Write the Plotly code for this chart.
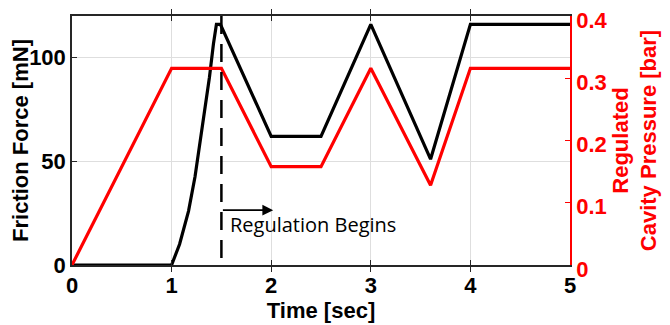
import plotly.graph_objects as go

# ---- data ----
t_force = [0, 1.0, 1.08, 1.17, 1.235, 1.285, 1.335, 1.38, 1.42, 1.45, 1.49, 2.0, 2.5, 3.0, 3.6, 4.0, 5.0]
force_mN = [0, 0, 10, 26, 42.5, 58.5, 74.5, 90.5, 106.5, 116, 116, 62, 62, 116, 51, 116, 116]

t_press = [0, 1.0, 1.5, 2.0, 2.5, 3.0, 3.6, 4.0, 5.0]
pressure_bar = [0, 0.316, 0.316, 0.158, 0.158, 0.316, 0.128, 0.316, 0.316]

regulation_start = 1.5
arrow_end = 2.02
arrow_level = 26.4
label_level = 19.5
annotation_text = "Regulation Begins"

x_ticks = [0, 1, 2, 3, 4, 5]
y_ticks = [0, 50, 100]
y2_ticks = [0, 0.1, 0.2, 0.3, 0.4]

FONT = "Liberation Sans, Arial, sans-serif"

fig = go.Figure()
fig.add_trace(go.Scatter(x=t_force, y=force_mN, mode="lines",
                         line=dict(color="black", width=3.2), yaxis="y", showlegend=False))
fig.add_trace(go.Scatter(x=t_press, y=pressure_bar, mode="lines",
                         line=dict(color="#ff0000", width=3.2), yaxis="y2", showlegend=False))

# dashed regulation line
fig.add_shape(type="line", xref="paper", yref="paper",
              x0=regulation_start / 5, x1=regulation_start / 5, y0=0.028, y1=1.03,
              line=dict(color="black", width=2.5, dash="18px,10px"))

# arrow
fig.add_annotation(x=arrow_end, y=arrow_level, ax=regulation_start, ay=arrow_level,
                   xref="x", yref="y", axref="x", ayref="y", text="",
                   showarrow=True, arrowhead=2, arrowsize=1.2, arrowwidth=1.8, arrowcolor="black")
fig.add_annotation(x=regulation_start + 0.07, y=label_level, xref="x", yref="y",
                   text=annotation_text, showarrow=False, xanchor="left", yanchor="middle",
                   font=dict(family="Open Sans, sans-serif", size=20, color="black"))

fig.update_layout(
    width=662, height=317,
    margin=dict(l=64, r=100, t=8, b=60),
    plot_bgcolor="white", paper_bgcolor="white",
    font=dict(family=FONT, size=22, color="black"),
    xaxis=dict(range=[0, 5], tickvals=x_ticks, showgrid=True, gridcolor="#dedede", gridwidth=1,
               showline=True, linecolor="#262626", linewidth=1.5, mirror="allticks",
               ticks="inside", ticklen=5, tickcolor="#262626", zeroline=False,
               tickfont=dict(family=FONT, size=22, color="black", weight="bold"),
               title=dict(text="<b>Time [sec]</b>", standoff=0,
                          font=dict(family=FONT, size=22, color="black")),
               automargin=False),
    yaxis=dict(range=[0, 120], tickvals=y_ticks, showgrid=True, gridcolor="#dedede", gridwidth=1,
               showline=True, linecolor="#262626", linewidth=1.5,
               ticks="inside", ticklen=5, tickcolor="#262626", zeroline=False,
               tickfont=dict(family=FONT, size=22, color="black", weight="bold"),
               title=dict(text="<b>Friction Force [mN]</b>", standoff=4,
                          font=dict(family=FONT, size=22, color="black")),
               automargin=False),
    yaxis2=dict(range=[0, 0.4], tickvals=y2_ticks, overlaying="y", side="right",
                showgrid=False, zeroline=False, showline=True, linecolor="#ff0000", linewidth=1.5,
                ticks="inside", ticklen=5, tickcolor="#ff0000", ticklabeloverflow="allow",
                ticklabelshift=4,
                tickfont=dict(family=FONT, size=22, color="#ff0000", weight="bold"),
                title=dict(text="<b>Regulated<br>Cavity Pressure [bar]</b>", standoff=6,
                           font=dict(family=FONT, size=22, color="#ff0000")),
                automargin=False),
)

fig.write_html("out.html")
